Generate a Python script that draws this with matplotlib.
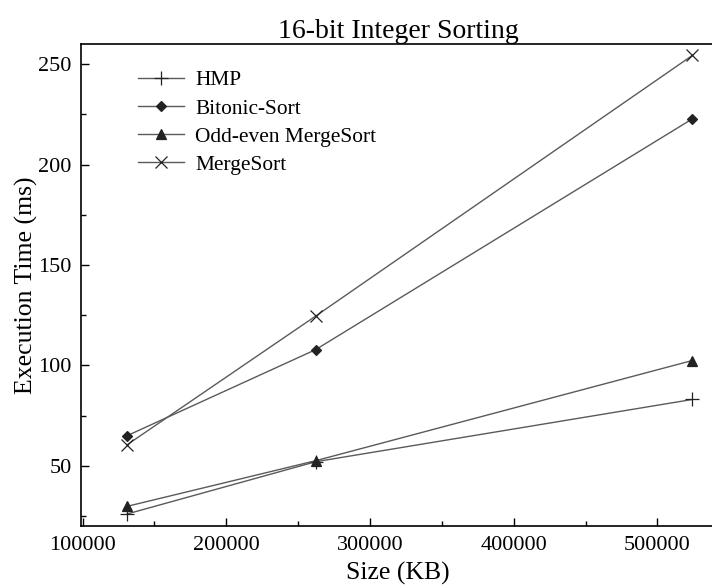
import matplotlib
matplotlib.use("Agg")
import matplotlib.pyplot as plt
from matplotlib.ticker import MultipleLocator

plt.rcParams["font.family"] = ["Liberation Serif", "DejaVu Serif"]

sizes = [131072, 262144, 524288]
hmp = [26, 52, 83]
bitonic = [65, 107.8, 222.7]
odd_even = [29.8, 52.5, 102.4]
merge = [60.5, 124.5, 254.3]

series = [
    ("HMP", hmp, "+", 10),
    ("Bitonic-Sort", bitonic, "D", 5.5),
    ("Odd-even MergeSort", odd_even, "^", 6.5),
    ("MergeSort", merge, "x", 9),
]

fig = plt.figure(figsize=(7.12, 5.86), dpi=100)
ax = fig.add_axes([0.114, 0.1024, 0.89, 0.8225])

for name, vals, mk, ms in series:
    ax.plot(sizes, vals, color="#5a5a5a", lw=1.0, marker=mk, markersize=ms,
            markerfacecolor="#222222", markeredgecolor="#222222",
            markeredgewidth=0.9, label=name)

ax.set_xlim(99000, 540000)
ax.set_ylim(20, 260)
ax.xaxis.set_major_locator(MultipleLocator(100000))
ax.xaxis.set_minor_locator(MultipleLocator(50000))
ax.yaxis.set_major_locator(MultipleLocator(50))
ax.yaxis.set_minor_locator(MultipleLocator(25))
ax.tick_params(which="both", direction="in", top=False, right=False, labelsize=16)
ax.tick_params(which="major", length=6, width=1, pad=7)
ax.tick_params(which="minor", length=3.5, width=1)
for s in ax.spines.values():
    s.set_linewidth(1.2)

ax.set_xlabel("Size (KB)", fontsize=18.5, labelpad=5)
ax.set_ylabel("Execution Time (ms)", fontsize=18.5, labelpad=0)
ax.set_title("16-bit Integer Sorting", fontsize=20, pad=0)

ax.legend(loc="upper left", bbox_to_anchor=(0.06, 0.985), frameon=False,
          fontsize=15.4, handlelength=2.15, handletextpad=0.5,
          labelspacing=0.38)

fig.savefig("out.png", dpi=100)
